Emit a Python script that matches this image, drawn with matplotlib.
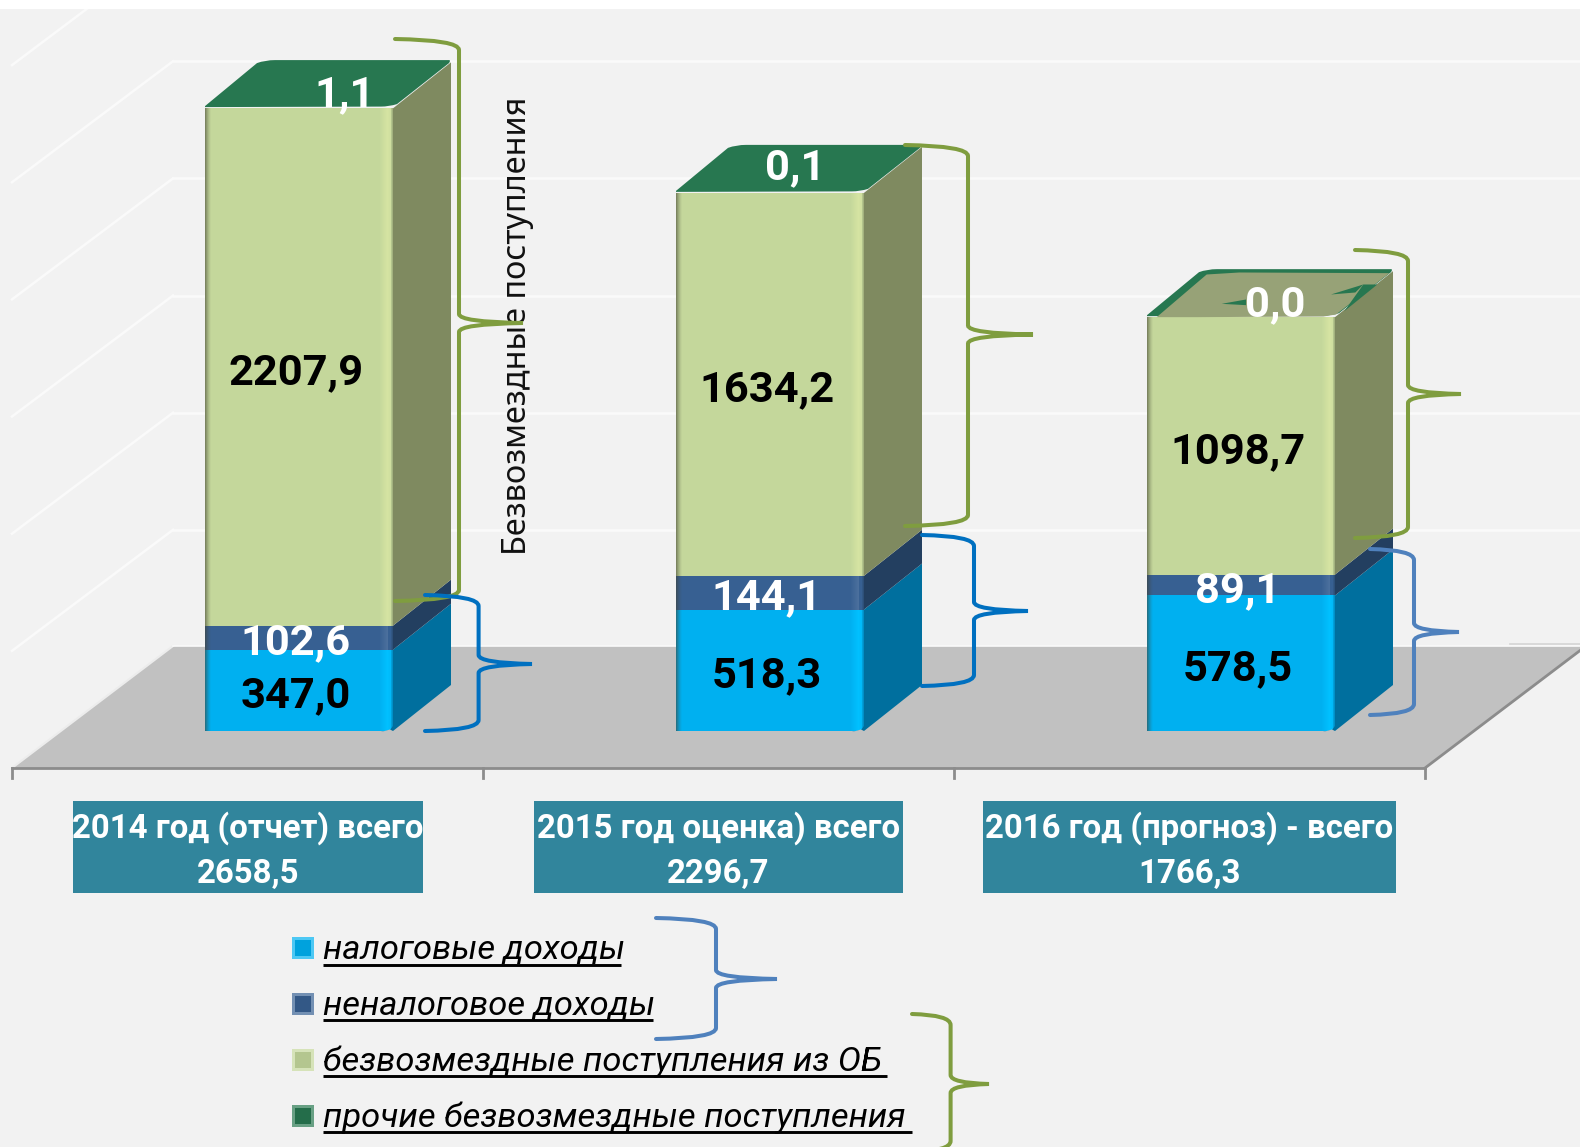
import matplotlib
matplotlib.use("Agg")
import matplotlib.pyplot as plt
from matplotlib.patches import Polygon, Rectangle, PathPatch
from matplotlib.path import Path
from matplotlib.colors import to_rgb
import numpy as np

# ---------- data ----------
years = ["2014 год (отчет) всего", "2015 год оценка) всего", "2016 год (прогноз) - всего"]
totals = ["2658,5", "2296,7", "1766,3"]
tax = [347.0, 518.3, 578.5]
nontax = [102.6, 144.1, 89.1]
grants = [2207.9, 1634.2, 1098.7]
other = [1.1, 0.1, 0.0]
grid_values = [500, 1000, 1500, 2000, 2500, 3000]
legend_labels = ["налоговые доходы", "неналоговое доходы",
                 "безвозмездные поступления из ОБ", "прочие безвозмездные поступления"]
side_title = "Безвозмездные поступления"

# ---------- style ----------
FONT = "Roboto"
W, H = 1580, 1147
BG = "#f2f2f2"
S = 0.2343          # px per value unit
BASE = 731          # pixel y of value 0 on front plane
STEP = 471.0        # px per category
C0 = 299.0          # px centre of first bar
BAR_W = 188.0
DX, DY = 58.0, 46.0
FRONT = ["#00b0f0", "#376092", "#c4d79b"]
SIDE = ["#006f9e", "#233f60", "#7f8a60"]
TOP = "#277750"
SERIES_LBL = ["black", "white", "black"]
TOP_LABEL_SHIFT = [(46, 18), (25, 30), (34, 17)]
LABEL_SIZE = 31.3

fig = plt.figure(figsize=(W/100, H/100), dpi=100, facecolor=BG)
bg = fig.add_axes([0, 0, 1, 1], zorder=0)
ax = fig.add_axes([0, 0, 1, 1], zorder=1)
ov = fig.add_axes([0, 0, 1, 1], zorder=2)
for a in (bg, ov):
    a.set_xlim(0, W); a.set_ylim(H, 0); a.axis("off")
ax.set_xlim(-C0/STEP, (W-C0)/STEP)
ax.set_ylim((BASE-H)/S, BASE/S)
ax.axis("off")
ax.patch.set_alpha(0)

# ---------- background wall + floor ----------
bg.add_patch(Rectangle((0, 0), W, 9, color="white", zorder=5, lw=0))
GRID_Y = 647; FLOOR_Y = 646; FRONT_Y = 768; FL, BL, FR, BR = 12, 173, 1425, 1586
GRID_C = "#fafafa"
for v in grid_values:
    y = GRID_Y - S*v
    bg.plot([BL, W], [y, y], color=GRID_C, lw=1.8, zorder=1, clip_on=True)
    bg.plot([FL, BL], [y+121, y], color=GRID_C, lw=1.8, zorder=1, clip_on=True)
bg.add_patch(Polygon([(FL, FRONT_Y), (BL, FLOOR_Y), (BR, FLOOR_Y), (FR, FRONT_Y)],
                     closed=True, fc="#c1c1c1", ec="none", zorder=2))
bg.plot([FL, BL], [FRONT_Y, FLOOR_Y], color="#ececec", lw=1.5, zorder=3)
bg.plot([BL, W], [FLOOR_Y, FLOOR_Y], color="#fafafa", lw=1.2, zorder=3)
bg.plot([1510, W], [644, 644], color="#d4d4d4", lw=1.2, zorder=3)
AXC = "#8c8c8c"
bg.plot([FL, FR], [FRONT_Y, FRONT_Y], color=AXC, lw=2, zorder=4)
bg.plot([FR, BR], [FRONT_Y, FLOOR_Y], color=AXC, lw=2, zorder=4)
for i in range(4):
    xt = FL + (FR-FL)/3*i
    bg.plot([xt, xt], [FRONT_Y, 778], color=AXC, lw=2, zorder=4)

# ---------- bars ----------
xu = lambda px: px/STEP
yu = lambda px: px/S
def mix(c, t, f):
    a, b = np.array(to_rgb(c)), np.array(to_rgb(t))
    return tuple(a*(1-f)+b*f)

pos = np.arange(3)
series = [tax, nontax, grants]
bottom = np.zeros(3)
w = xu(BAR_W)
for k, vals in enumerate(series):
    vals = np.array(vals)
    ax.bar(pos, vals, w, bottom=bottom, color=FRONT[k], lw=0, zorder=3)
    # bevel strips on the front face
    for n in range(6):
        f = (1-n/6)**1.5*0.55
        ax.bar(pos - w/2 + xu(n+0.5), vals, xu(1.05), bottom=bottom,
               color=mix(FRONT[k], "#404030", f), lw=0, zorder=4)
    for n in range(14):
        f = 0.10*(1-abs(n-8)/8) if n <= 8 else 0.0
        col = mix(FRONT[k], "#ffffff", f) if k != 2 else mix(FRONT[k], "#e6f0a8", 0.5*(1-abs(n-8)/8))
        if k == 0:
            col = mix(FRONT[k], "#00c0ff", (1-abs(n-8)/8))
        if n > 11:
            col = mix(FRONT[k], SIDE[k], (n-11)/4)
        ax.bar(pos + w/2 - xu(14-n-0.5), vals, xu(1.05), bottom=bottom,
               color=col, lw=0, zorder=4)
    # side faces
    for i in pos:
        xr = i + w/2
        b, t = bottom[i], bottom[i] + vals[i]
        ax.add_patch(Polygon([(xr, b), (xr+xu(DX), b+yu(DY)), (xr+xu(DX), t+yu(DY)), (xr, t)],
                             closed=True, fc=SIDE[k], ec="none", zorder=2.5))
    # labels
    for i in pos:
        ax.annotate(f"{vals[i]:.1f}".replace(".", ","), (i, bottom[i]+vals[i]/2),
                    xytext=(-3, -1), textcoords="offset pixels", ha="center", va="center_baseline",
                    fontsize=LABEL_SIZE, fontweight="bold", family=FONT, color=SERIES_LBL[k], zorder=8)
    bottom = bottom + vals

# top series + top faces
vals = np.array(other)
ax.bar(pos, vals, w, bottom=bottom, color=TOP, lw=0, zorder=3)
bottom = bottom + vals
for i in pos:
    xl, xr = i - w/2, i + w/2
    t = bottom[i]
    P = lambda dx, dy: (xl + xu(dx), t - yu(dy))   # dx, dy in px, y downwards from front-left-top
    verts = [P(0, -1), P(176, -1.5), P(184, -1.5), P(192, -4), P(244, -45), P(246, -48),
             P(244, -48), P(70, -48), P(60, -48), P(52, -45), P(0, -2), P(0, -1)]
    codes = [Path.MOVETO, Path.LINETO, Path.CURVE3, Path.CURVE3, Path.LINETO, Path.CURVE3,
             Path.CURVE3, Path.LINETO, Path.CURVE3, Path.CURVE3, Path.LINETO, Path.CLOSEPOLY]
    ax.add_patch(PathPatch(Path(verts, codes), fc=TOP, ec="none", zorder=5))
    if vals[i] < 0.05:
        Z = lambda zx, zy: P((zx-143)/3, (zy-258)/3)
        ax.add_patch(Polygon([Z(172, 258), Z(322, 130), Z(420, 124), Z(870, 126), Z(710, 250), Z(672, 256), Z(295, 258)],
                             closed=True, fc="#97a277", ec="none", zorder=6))
        for poly in ([Z(695, 190), Z(792, 160), Z(768, 184)],
                     [Z(367, 218), Z(440, 205), Z(440, 222)],
                     [Z(792, 160), Z(834, 160), Z(735, 240)]):
            ax.add_patch(Polygon(poly, closed=True, fc=TOP, ec="none", zorder=6.5))
    ax.annotate(f"{vals[i]:.1f}".replace(".", ","), (i, t),
                xytext=TOP_LABEL_SHIFT[i], textcoords="offset pixels", ha="center", va="center_baseline",
                fontsize=LABEL_SIZE, fontweight="bold", family=FONT, color="white", zorder=8)
    # bottom rounded corners
    ax.add_patch(Polygon([(xr, yu(5)), (xr, -yu(1)), (xr-xu(12), -yu(1)), (xr - xu(3), yu(1))],
                         closed=True, fc=SIDE[0], ec="none", zorder=4.5))
    ax.add_patch(Polygon([(xr, yu(0)), (xr, -yu(1)), (xr-xu(12), -yu(1)), (xr - xu(3), yu(1.5))],
                         closed=True, fc="#c1c1c1", ec="none", zorder=4.6))

# ---------- category boxes ----------
boxes = [(73, 423), (534, 903), (982.5, 1396)]
for (x0, x1), yr, tot in zip(boxes, years, totals):
    ov.add_patch(Rectangle((x0, 801), x1-x0, 92, fc="#31859c", ec="none", zorder=3))
    c = (x0+x1)/2
    ov.text(c, 828, yr, ha="center", va="center", color="white", fontsize=23.8, fontweight="bold", family=FONT, zorder=4)
    ov.text(c, 874, tot, ha="center", va="center", color="white", fontsize=23.8, fontweight="bold", family=FONT, zorder=4)

# ---------- braces ----------
def brace(x0, xv, xt, yt, ym, yb, color, lw=2.9):
    verts = [(x0, yt), (xv, yt+1), (xv, yt+11), (xv, ym-9), (xv, ym-1), (xt, ym),
             (xv, ym+1), (xv, ym+9), (xv, yb-11), (xv, yb-1), (x0, yb)]
    codes = [Path.MOVETO, Path.CURVE3, Path.CURVE3, Path.LINETO, Path.CURVE3, Path.CURVE3,
             Path.CURVE3, Path.CURVE3, Path.LINETO, Path.CURVE3, Path.CURVE3]
    ov.add_patch(PathPatch(Path(verts, codes), fc="none", ec=color, lw=lw, zorder=6, capstyle="round"))

G = "#7f9d3f"; B1 = "#0070c0"; B2 = "#4f81bd"
brace(395, 459, 523, 39, 323, 601, G)
brace(905, 968, 1033, 145, 334.5, 526, G)
brace(1355, 1408, 1461, 250, 394, 538, G)
brace(425, 478.6, 532, 595, 664, 731, B1)
brace(922, 974, 1028, 535, 611, 686, B1)
brace(1370, 1414, 1459, 549, 632, 715, B2)
brace(656, 716, 777, 918, 979, 1039, B2)
brace(912, 950.6, 989, 1014, 1084, 1152, G)

# ---------- side title ----------
ov.text(517, 326, side_title, rotation=90, ha="center", va="center", fontsize=23.4,
        family="Noto Sans", color="#111111", zorder=5)

# ---------- legend ----------
leg_y = [937, 992.5, 1048.5, 1104.5]
leg_colors = FRONT + ["#277750"]
leg_ends = [620.5, 652.5, 887, 911.5]
for y, col, lab, xe in zip(leg_y, leg_colors, legend_labels, leg_ends):
    ov.add_patch(Rectangle((292, y), 22, 22, fc=mix(col, "#ffffff", 0.3), ec="none", zorder=4))
    ov.add_patch(Rectangle((295, y+3), 16, 16, fc=mix(col, "#000000", 0.08), ec="none", zorder=4.1))
    ov.text(323, y+22, lab, ha="left", va="baseline", fontsize=24.8, style="italic",
            family=FONT, color="black", zorder=4)
    ov.plot([323, xe], [y+27.5, y+27.5], color="black", lw=2.1, zorder=4, solid_capstyle="butt")

fig.savefig("out.png", dpi=100, facecolor=BG)
